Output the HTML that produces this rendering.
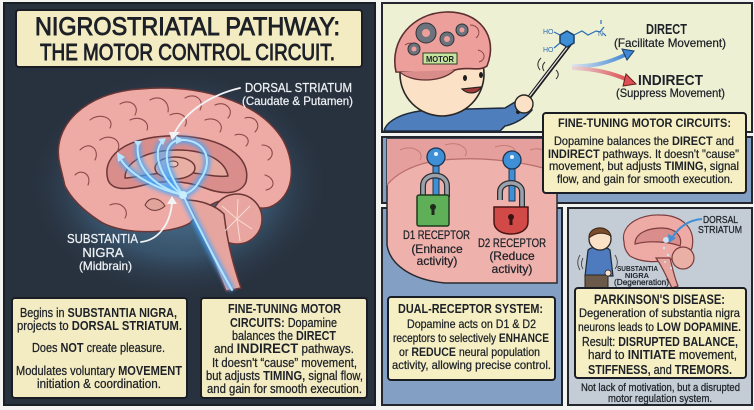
<!DOCTYPE html>
<html><head><meta charset="utf-8">
<style>
html,body{margin:0;padding:0;background:#f3f3f1;}
svg{display:block;}
text{font-family:"Liberation Sans",sans-serif;fill:#1d2127;stroke:#1d2127;stroke-width:0.25;}
.w{fill:#eef2f5;stroke:#eef2f5;}
.b{font-weight:bold;stroke-width:0;}
.ttl{stroke-width:0.9;}
</style></head>
<body>
<svg width="754" height="410" viewBox="0 0 754 410" xmlns="http://www.w3.org/2000/svg">
<defs>
<radialGradient id="glow" cx="50%" cy="50%" r="50%">
<stop offset="0" stop-color="#6a9cc2" stop-opacity="0.75"/>
<stop offset="0.6" stop-color="#4a7aa0" stop-opacity="0.45"/>
<stop offset="1" stop-color="#28313e" stop-opacity="0"/>
</radialGradient>
<filter id="blur" x="-20%" y="-20%" width="140%" height="140%"><feGaussianBlur stdDeviation="2.5"/></filter>
<linearGradient id="bl" x1="0" x2="1"><stop offset="0" stop-color="#dfe6f0"/><stop offset="1" stop-color="#3f86d4"/></linearGradient>
<linearGradient id="rd" x1="0" x2="1"><stop offset="0" stop-color="#e9d8d8"/><stop offset="1" stop-color="#dd4f52"/></linearGradient>
</defs>
<rect width="754" height="410" fill="#f3f3f1"/>

<!-- LEFT PANEL -->
<rect x="4" y="3" width="371" height="402" fill="#28313e" stroke="#1a1f26" stroke-width="2"/>
<ellipse cx="178" cy="185" rx="155" ry="118" fill="url(#glow)"/>
<rect x="16" y="10" width="346" height="57" rx="3" fill="#f3ebc2" stroke="#1a1e24" stroke-width="2"/>
<text class="ttl" x="35" y="35" font-size="25" textLength="305" lengthAdjust="spacingAndGlyphs">NIGROSTRIATAL PATHWAY:</text>
<text class="ttl" x="40" y="60" font-size="23" textLength="295" lengthAdjust="spacingAndGlyphs">THE MOTOR CONTROL CIRCUIT.</text>

<!-- brain -->
<g stroke="#6b3636" stroke-width="1.5" stroke-linejoin="round">
<path d="M60,165 C50,126 86,92 140,89 C196,84 258,99 283,140 C297,166 294,197 270,207 C255,212 240,198 225,200 C210,202 200,212 190,223 C170,235 118,235 98,220 C86,212 72,200 65,186 Z" fill="#eeaba6"/>
<circle cx="237" cy="219" r="25" fill="#e9a6a0"/>
<path d="M185,200 C196,215 203,240 214,262 L226,291 L241,288 C233,265 227,240 224,214 C215,205 200,200 185,200 Z" fill="#e6a59e"/>
<path d="M108,180 C100,152 135,134 180,136 C222,138 252,156 246,182 C240,196 220,194 205,188 C185,180 160,180 140,186 C125,190 112,190 108,180 Z" fill="#d98e8c"/>
<path d="M125,178 C125,160 150,150 178,150 C205,150 225,160 228,176 C215,178 200,172 178,172 C155,172 135,178 125,178 Z" fill="#e7aaa0"/>
<ellipse cx="175" cy="168" rx="20" ry="11" fill="#e8b0a4"/>
<ellipse cx="173" cy="164" rx="5" ry="3" fill="#f0c3b4" stroke-width="1"/>
<path d="M145,205 C150,195 160,198 165,206 C158,212 150,212 145,205 Z" fill="#e1a49b" stroke-width="1"/>
</g>
<g fill="none" stroke="#8d4a4a" stroke-width="1.1" stroke-linecap="round">
<path d="M80,150 C90,140 100,150 95,160"/><path d="M90,120 C100,112 115,118 110,128"/>
<path d="M120,104 C130,98 140,106 135,115"/><path d="M150,100 C160,94 170,102 168,112"/>
<path d="M185,98 C195,92 205,100 200,110"/><path d="M215,105 C225,100 235,110 228,118"/>
<path d="M245,118 C255,115 262,125 255,132"/><path d="M262,145 C272,145 276,155 268,160"/>
<path d="M265,175 C275,178 276,188 266,190"/><path d="M75,175 C82,168 92,175 88,185"/>
<path d="M100,140 C110,133 122,140 118,150"/><path d="M130,120 C140,115 150,122 147,130"/>
<path d="M170,115 C180,110 190,118 185,126"/><path d="M205,120 C215,116 225,124 220,132"/>
<path d="M235,135 C245,132 252,140 246,146"/><path d="M110,205 C120,200 130,210 125,218"/>
</g>
<g fill="none" stroke="#fbe9e4" stroke-width="1" opacity="0.8">
<path d="M237,219 L222,206 M237,219 L225,231 M237,219 L250,206 M237,219 L252,229 M237,219 L238,199 M237,219 L240,241"/>
</g>
<!-- blue pathway -->
<g fill="none" stroke="#3fa6ff" stroke-width="6" filter="url(#blur)" opacity="0.9">
<path d="M183,195 C195,220 215,260 232,290"/>
<path d="M183,195 C160,190 130,176 120,158"/>
<path d="M183,195 C150,185 135,165 138,143"/>
<path d="M183,195 C160,180 152,152 162,142"/>
<path d="M183,195 C165,170 160,145 178,140 C205,138 215,160 200,180 C195,190 188,193 183,195"/>
</g>
<g fill="none" stroke="#b6e6ff" stroke-width="2" stroke-linecap="round">
<path d="M183,195 C195,220 215,260 232,290"/>
<path d="M183,195 C160,190 130,176 120,158"/>
<path d="M183,195 C150,185 135,165 138,143"/>
<path d="M183,195 C160,180 152,152 162,142"/>
<path d="M183,195 C165,170 160,145 178,140 C205,138 215,160 200,180 C195,190 188,193 183,195"/>
</g>
<g fill="#b6e6ff"><polygon points="117,152 125,157 118,162"/><polygon points="134,141 142,141 138,147" /><polygon points="158,139 166,138 163,145"/><polygon points="176,136 184,140 176,144"/></g>
<circle cx="183" cy="195" r="4" fill="#c9eeff"/>
<!-- label arrows -->
<g fill="none" stroke="#f1f3f5" stroke-width="1.8" stroke-linecap="round">
<path d="M240,88 C210,95 185,112 174,134"/>
<path d="M141,242 C158,240 170,225 172,203"/>
</g>
<polygon points="169,132 180,132 172,140" fill="#f1f3f5"/>
<polygon points="167,204 177,204 172,196" fill="#f1f3f5"/>
<text class="w" x="245" y="92" font-size="13" textLength="107" lengthAdjust="spacingAndGlyphs">DORSAL STRIATUM</text>
<text class="w" x="242" y="105" font-size="12" textLength="111" lengthAdjust="spacingAndGlyphs">(Caudate &amp; Putamen)</text>
<text class="w" x="67" y="243" font-size="13" textLength="71" lengthAdjust="spacingAndGlyphs">SUBSTANTIA</text>
<text class="w" x="103" y="257" font-size="13" text-anchor="middle">NIGRA</text>
<text class="w" x="79" y="270" font-size="12" textLength="53" lengthAdjust="spacingAndGlyphs">(Midbrain)</text>

<!-- left bottom boxes -->
<rect x="12" y="298" width="175" height="100" rx="3" fill="#f3ebc2" stroke="#1a1e24" stroke-width="2"/>
<text x="20" y="317" font-size="12.5" textLength="157" lengthAdjust="spacingAndGlyphs">Begins in <tspan class="b">SUBSTANTIA NIGRA,</tspan></text>
<text x="17" y="330" font-size="12.5" textLength="165" lengthAdjust="spacingAndGlyphs">projects to <tspan class="b">DORSAL STRIATUM.</tspan></text>
<text x="32" y="352" font-size="12.5" textLength="133" lengthAdjust="spacingAndGlyphs">Does <tspan class="b">NOT</tspan> create pleasure.</text>
<text x="16" y="375" font-size="12.5" textLength="166" lengthAdjust="spacingAndGlyphs">Modulates voluntary <tspan class="b">MOVEMENT</tspan></text>
<text x="37" y="388" font-size="12.5" textLength="124" lengthAdjust="spacingAndGlyphs">initiation &amp; coordination.</text>

<rect x="201" y="298" width="166" height="100" rx="3" fill="#f3ebc2" stroke="#1a1e24" stroke-width="2"/>
<text class="b" x="228" y="313" font-size="12.5" textLength="113" lengthAdjust="spacingAndGlyphs">FINE-TUNING MOTOR</text>
<text x="230" y="327" font-size="12.5" textLength="107" lengthAdjust="spacingAndGlyphs"><tspan class="b">CIRCUITS:</tspan> Dopamine</text>
<text x="232" y="340" font-size="12.5" textLength="104" lengthAdjust="spacingAndGlyphs">balances the <tspan class="b">DIRECT</tspan></text>
<text x="214" y="353" font-size="12.5" textLength="140" lengthAdjust="spacingAndGlyphs">and <tspan class="b" font-size="14">INDIRECT</tspan> pathways.</text>
<text x="212" y="367" font-size="12.5" textLength="145" lengthAdjust="spacingAndGlyphs">It doesn't “cause” movement,</text>
<text x="206" y="380" font-size="12.5" textLength="157" lengthAdjust="spacingAndGlyphs">but adjusts <tspan class="b">TIMING,</tspan> signal flow,</text>
<text x="207" y="393" font-size="12.5" textLength="155" lengthAdjust="spacingAndGlyphs">and gain for smooth execution.</text>

<!-- TOP RIGHT PANEL -->
<rect x="382" y="3" width="370" height="129" fill="#eef0d4" stroke="#23272d" stroke-width="2"/>
<!-- shirt -->
<path d="M384,131 C386,122 400,112 430,110 L505,108 C512,104 518,100 522,98 L532,110 C525,118 515,124 505,126 L500,131 Z" fill="#4f7ebd" stroke="#1e2a3c" stroke-width="1.5"/>
<!-- face -->
<circle cx="442" cy="74" r="42" fill="#fbe1c6" stroke="#2a2623" stroke-width="1.6"/>
<!-- brain cap -->
<path d="M396,72 C389,40 413,13 446,12 C479,11 499,36 487,66 C479,72 468,66 455,70 C440,74 420,72 396,72 Z" fill="#ec9f9b" stroke="#5e2f2f" stroke-width="1.6"/>
<path d="M400,72 C410,82 440,84 455,70" fill="#d98d8a" stroke="#5e2f2f" stroke-width="1.2"/>
<g fill="none" stroke="#8d4646" stroke-width="1"><path d="M405,45 C412,40 418,46 414,52"/><path d="M470,25 C478,25 482,33 476,38"/><path d="M478,50 C486,52 486,60 479,62"/></g>
<g fill="#6c737d" stroke="#2f3338" stroke-width="1">
<circle cx="426" cy="33" r="10"/><circle cx="447" cy="39" r="7"/><circle cx="462" cy="30" r="6"/><circle cx="414" cy="49" r="6"/>
</g>
<g fill="#ec9f9b"><circle cx="426" cy="33" r="4"/><circle cx="447" cy="39" r="3"/><circle cx="462" cy="30" r="2.5"/><circle cx="414" cy="49" r="2.5"/></g>
<rect x="423" y="53" width="34" height="11" fill="#c7e59e" stroke="#2f3a22" stroke-width="1"/>
<text class="b" x="426" y="62" font-size="8.5" textLength="28" lengthAdjust="spacingAndGlyphs">MOTOR</text>
<ellipse cx="465" cy="78" rx="2" ry="3" fill="#1d1d1d"/>
<ellipse cx="481" cy="75" rx="2" ry="3" fill="#1d1d1d"/>
<path d="M462,89 C468,95 478,94 481,87 Z" fill="#a33a3a" stroke="#2a2623" stroke-width="1.2"/>
<!-- stick & hand -->
<line x1="518" y1="112" x2="570" y2="44" stroke="#1c1c1c" stroke-width="4" stroke-linecap="round"/>
<line x1="519" y1="110" x2="569" y2="45" stroke="#e8e8e8" stroke-width="1.2"/>
<circle cx="524" cy="104" r="9" fill="#fbe1c6" stroke="#2a2623" stroke-width="1.4"/>
<g fill="none" stroke="#333" stroke-width="1"><path d="M541,58 C537,62 537,66 540,70"/><path d="M545,62 C542,65 542,68 544,71"/><path d="M556,70 C559,73 559,76 556,79"/></g>
<!-- molecule -->
<polygon points="567,31 574,35 574,43 567,47 560,43 560,35" fill="#3d8ed4" stroke="#1b3c66" stroke-width="1.5"/>
<g fill="none" stroke="#2d6fb4" stroke-width="1.2"><path d="M574,35 L582,31 L588,35 L596,31"/><path d="M596,31 L600,32 L604,27"/><path d="M601,24 L601,20"/><path d="M603,33 L606,36"/><path d="M560,35 L554,32"/><path d="M560,43 L554,48"/></g>
<text x="598" y="36" font-size="7" style="fill:#2d6fb4;stroke:none">N</text>
<text x="543" y="34" font-size="7" style="fill:#2d6fb4;stroke:none">HO</text>
<text x="543" y="52" font-size="7" style="fill:#2d6fb4;stroke:none">HO</text>
<!-- arrows -->
<path d="M572,66 C595,67 610,62 627,54" fill="none" stroke="url(#bl)" stroke-width="4"/>
<polygon points="622,49 634,51 627,60" fill="#3f86d4" stroke="#1c3d66" stroke-width="1"/>
<path d="M572,68 C596,69 612,73 628,80" fill="none" stroke="url(#rd)" stroke-width="4"/>
<polygon points="626,74 636,84 623,86" fill="#dd4f52" stroke="#6a1f20" stroke-width="1"/>
<text class="b" x="646" y="34" font-size="14.5" textLength="41" lengthAdjust="spacingAndGlyphs">DIRECT</text>
<text x="614" y="47" font-size="12" textLength="112" lengthAdjust="spacingAndGlyphs">(Facilitate Movement)</text>
<text class="b" x="638" y="85" font-size="15" textLength="65" lengthAdjust="spacingAndGlyphs">INDIRECT</text>
<text x="616" y="97" font-size="12" textLength="109" lengthAdjust="spacingAndGlyphs">(Suppress Movement)</text>

<!-- MIDDLE / BOTTOM PANELS -->
<rect x="382" y="137" width="370" height="66" fill="#83a0c4" stroke="#23272d" stroke-width="2"/>
<rect x="382" y="208" width="180" height="197" fill="#83a0c4" stroke="#23272d" stroke-width="2"/>
<rect x="568" y="208" width="184" height="197" fill="#c4cdd6" stroke="#23272d" stroke-width="2"/>
<!-- pink tissue -->
<path d="M387,139 L557,139 L557,283 L445,283 C412,280 390,265 387,245 Z" fill="#eeb1ac" stroke="#2a2a30" stroke-width="1.5"/>
<path d="M387,139 L557,139 L557,172 C520,160 470,155 430,162 C410,166 395,175 387,185 Z" fill="#e59f9c"/>
<path d="M387,185 C395,175 410,166 430,162 C470,155 520,160 557,172" fill="none" stroke="#b86d6b" stroke-width="1.2"/>
<g fill="none" stroke="#c67c79" stroke-width="1"><path d="M400,150 C412,144 425,152 420,160"/><path d="M445,145 C460,140 470,150 465,156"/><path d="M495,147 C510,142 520,150 514,157"/><path d="M530,150 C540,146 550,152 546,160"/></g>
<!-- key & lock 1 -->
<rect x="433" y="164" width="6" height="36" fill="#3f8fd6" stroke="#1c3550" stroke-width="1"/>
<circle cx="436" cy="157" r="9" fill="#3f8fd6" stroke="#1c3550" stroke-width="1.3"/>
<circle cx="436" cy="154" r="2" fill="#eaf4ff"/>
<path d="M423,197 L423,186 C423,172 447,172 447,186 L447,197" fill="none" stroke="#2b2e33" stroke-width="6"/>
<path d="M423,197 L423,186 C423,172 447,172 447,186 L447,197" fill="none" stroke="#9aa1aa" stroke-width="3.5"/>
<rect x="417" y="195" width="32" height="31" rx="2" fill="#5fae58" stroke="#1f3a1d" stroke-width="1.5"/>
<circle cx="433" cy="207" r="3" fill="#1e2a1c"/><rect x="431.5" y="207" width="3" height="8" fill="#1e2a1c"/>
<!-- key & lock 2 -->
<rect x="509" y="167" width="6" height="34" fill="#3f8fd6" stroke="#1c3550" stroke-width="1"/>
<circle cx="512" cy="160" r="9" fill="#3f8fd6" stroke="#1c3550" stroke-width="1.3"/>
<circle cx="512" cy="157" r="2" fill="#eaf4ff"/>
<path d="M500,200 L500,192 C500,180 522,180 522,192 L522,208" fill="none" stroke="#2b2e33" stroke-width="6"/>
<path d="M500,200 L500,192 C500,180 522,180 522,192 L522,208" fill="none" stroke="#9aa1aa" stroke-width="3.5"/>
<path d="M494,207 L528,207 L528,222 C528,230 520,234 511,234 C502,234 494,230 494,222 Z" fill="#d24a47" stroke="#4a1615" stroke-width="1.5"/>
<circle cx="511" cy="217" r="3" fill="#3a1212"/><rect x="509.5" y="217" width="3" height="8" fill="#3a1212"/>
<text x="403" y="239" font-size="12" textLength="67" lengthAdjust="spacingAndGlyphs">D1 RECEPTOR</text>
<text x="437" y="253" font-size="12" text-anchor="middle">(Enhance</text>
<text x="437" y="265" font-size="12" text-anchor="middle">activity)</text>
<text x="478" y="247" font-size="12" textLength="68" lengthAdjust="spacingAndGlyphs">D2 RECEPTOR</text>
<text x="512" y="260" font-size="12" text-anchor="middle">(Reduce</text>
<text x="512" y="273" font-size="12" text-anchor="middle">activity)</text>

<!-- fine tuning box (top right) -->
<rect x="543" y="113" width="203" height="80" rx="3" fill="#f5efc3" stroke="#1a1e24" stroke-width="2"/>
<text class="b" x="558" y="127" font-size="12" textLength="173" lengthAdjust="spacingAndGlyphs">FINE-TUNING MOTOR CIRCUITS:</text>
<text x="554" y="145" font-size="12" textLength="180" lengthAdjust="spacingAndGlyphs">Dopamine balances the <tspan class="b">DIRECT</tspan> and</text>
<text x="548" y="158" font-size="12" textLength="191" lengthAdjust="spacingAndGlyphs"><tspan class="b">INDIRECT</tspan> pathways. It doesn't "cause"</text>
<text x="549" y="170" font-size="12" textLength="190" lengthAdjust="spacingAndGlyphs">movement, but adjusts <tspan class="b">TIMING,</tspan> signal</text>
<text x="557" y="183" font-size="12" textLength="176" lengthAdjust="spacingAndGlyphs">flow, and gain for smooth execution.</text>

<!-- dual receptor box -->
<rect x="388" y="297" width="167" height="83" rx="3" fill="#f5efc3" stroke="#1a1e24" stroke-width="2"/>
<text class="b" x="398" y="313" font-size="13" textLength="145" lengthAdjust="spacingAndGlyphs">DUAL-RECEPTOR SYSTEM:</text>
<text x="407" y="328" font-size="12" textLength="129" lengthAdjust="spacingAndGlyphs">Dopamine acts on D1 &amp; D2</text>
<text x="393" y="342" font-size="12" textLength="156" lengthAdjust="spacingAndGlyphs">receptors to selectively <tspan class="b">ENHANCE</tspan></text>
<text x="399" y="356" font-size="12" textLength="141" lengthAdjust="spacingAndGlyphs">or <tspan class="b">REDUCE</tspan> neural population</text>
<text x="392" y="369" font-size="12" textLength="159" lengthAdjust="spacingAndGlyphs">activity, allowing precise control.</text>

<!-- parkinson scene -->
<path d="M588,250 C592,246 606,246 610,250 L613,276 L585,276 Z" fill="#4d7bbd" stroke="#1e2a3c" stroke-width="1.2"/>
<rect x="585" y="275" width="23" height="15" fill="#6b5a4a" stroke="#2c241c" stroke-width="1"/>
<circle cx="600" cy="239" r="11" fill="#fbe1c6" stroke="#2a2623" stroke-width="1.3"/>
<path d="M589,238 C588,226 608,224 611,236 C604,232 596,232 589,238 Z" fill="#7a4e2c" stroke="#3a2414" stroke-width="1"/>
<circle cx="608" cy="273" r="3" fill="#fbe1c6" stroke="#2a2623" stroke-width="0.8"/>
<g fill="none" stroke="#444" stroke-width="0.9"><path d="M580,255 C577,260 577,265 580,270"/><path d="M583,258 C581,262 581,266 583,269"/><path d="M615,255 C618,260 618,265 615,269"/></g>
<g stroke="#7a3c3c" stroke-width="1.2">
<path d="M624,242 C620,225 640,214 660,215 C682,215 696,228 692,248 C688,258 676,258 668,260 C655,263 640,262 630,256 C626,252 624,248 624,242 Z" fill="#eeaba6"/>
<circle cx="683" cy="258" r="11" fill="#eab0a6"/>
<path d="M656,258 C662,266 666,276 672,288 L678,286 C674,276 672,266 670,258 Z" fill="#e6a59e"/>
<path d="M635,244 C635,232 650,228 662,228 C675,228 683,236 680,246 C670,242 650,240 635,244 Z" fill="#d98e8c"/>
</g>
<g fill="#c9ecff" opacity="0.9"><circle cx="666" cy="240" r="3"/><circle cx="664" cy="248" r="1.2"/><circle cx="668" cy="255" r="1.2"/><circle cx="665" cy="262" r="1"/><circle cx="671" cy="268" r="1"/></g>
<path d="M702,219 C688,220 678,228 672,238" fill="none" stroke="#3f8fd6" stroke-width="2"/>
<polygon points="668,234 676,238 669,243" fill="#3f8fd6"/>
<text x="703" y="223" font-size="10.5" textLength="35" lengthAdjust="spacingAndGlyphs">DORSAL</text>
<text x="698" y="233" font-size="10.5" textLength="44" lengthAdjust="spacingAndGlyphs">STRIATUM</text>
<text class="b" x="617" y="271" font-size="7.5" textLength="41" lengthAdjust="spacingAndGlyphs">SUBSTANTIA</text>
<text class="b" x="637" y="278" font-size="7.5" text-anchor="middle">NIGRA</text>
<text x="614" y="285" font-size="8.5" textLength="55" lengthAdjust="spacingAndGlyphs">(Degeneration)</text>

<rect x="575" y="288" width="171" height="90" rx="3" fill="#f5efc3" stroke="#1a1e24" stroke-width="2"/>
<text class="b" x="594" y="304" font-size="14" textLength="131" lengthAdjust="spacingAndGlyphs">PARKINSON'S DISEASE:</text>
<text x="579" y="317" font-size="12" textLength="161" lengthAdjust="spacingAndGlyphs">Degeneration of substantia nigra</text>
<text x="578" y="331" font-size="12" textLength="163" lengthAdjust="spacingAndGlyphs">neurons leads to <tspan class="b">LOW DOPAMINE.</tspan></text>
<text x="582" y="346" font-size="13" textLength="156" lengthAdjust="spacingAndGlyphs">Result: <tspan class="b">DISRUPTED BALANCE,</tspan></text>
<text x="588" y="359" font-size="13" textLength="149" lengthAdjust="spacingAndGlyphs">hard to <tspan class="b">INITIATE</tspan> movement,</text>
<text x="588" y="374" font-size="13" textLength="144" lengthAdjust="spacingAndGlyphs"><tspan class="b">STIFFNESS,</tspan> and <tspan class="b">TREMORS.</tspan></text>
<text x="581" y="391" font-size="11" textLength="159" lengthAdjust="spacingAndGlyphs">Not lack of motivation, but a disrupted</text>
<text x="608" y="402" font-size="11" textLength="104" lengthAdjust="spacingAndGlyphs">motor regulation system.</text>
</svg>
</body></html>
